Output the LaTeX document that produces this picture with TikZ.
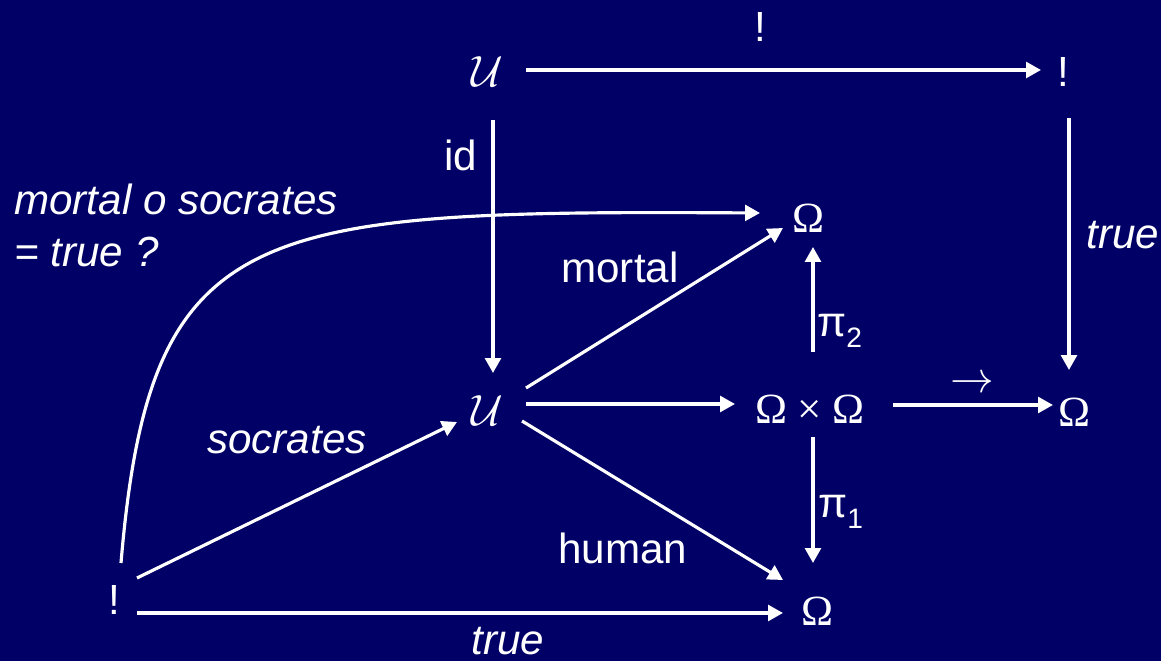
\documentclass[tikz,border=0pt]{standalone}
\usepackage{fontspec}
\setmainfont{Liberation Sans}
\newfontfamily\serifom{Liberation Serif}
\usetikzlibrary{arrows.meta,calc}
\definecolor{bgc}{RGB}{0,0,102}
\begin{document}
\begin{tikzpicture}[x=0.02cm,y=-0.02cm,
  every node/.style={text=white,inner sep=0pt,font=\fontsize{24}{29}\selectfont},
  obj/.style={font=\fontsize{24.5}{29}\selectfont\serifom},
  cal/.style={font=\fontsize{27}{30}\selectfont},
  lab/.style={font=\fontsize{24}{29}\selectfont},
  ilab/.style={font=\fontsize{24}{29}\selectfont\itshape},
  conn/.style={draw=white,line width=1.8pt},
  arr/.style={conn,-{Triangle[length=8.5pt,width=9pt]}}]
\useasboundingbox (0,0) rectangle (1161,661);
\fill[bgc] (0,0) rectangle (1161,661);
% objects
\node[cal] (Utop) at (487,72) {$\mathcal{U}$};
\node[lab] (Btop) at (1063,72) {!};
\node[cal] (Umid) at (487,411) {$\mathcal{U}$};
\node[obj] (Otop) at (808,218) {Ω};
\node[obj] (OxO) at (810,409) {Ω × Ω};
\node[obj] (Oright) at (1074,412) {Ω};
\node[obj] (Obot) at (817,611) {Ω};
\node[lab] (Bbot) at (114,600) {!};
% connectors
\draw[arr] ($(Utop)+(39,-2)$) -- ($(Btop)+(-22,-2)$);
\draw[arr] ($(Utop)+(6,48)$) -- ($(Umid)+(6,-38)$);
\draw[arr] ($(Btop)+(6,46)$) -- ($(Oright)+(-5,-42)$);
\draw[arr] ($(Umid)+(39,-7)$) -- ($(OxO)+(-75,-5)$);
\draw[arr] ($(OxO)+(83,-4)$) -- ($(Oright)+(-21,-7)$);
\draw[arr] ($(OxO)+(3,-57)$) -- ($(Otop)+(5,29)$);
\draw[arr] ($(OxO)+(3,28)$) -- ($(Obot)+(-4,-48)$);
\draw[arr] ($(Umid)+(39,-23)$) -- ($(Otop)+(-25,10)$);
\draw[arr] ($(Umid)+(35,10)$) -- ($(Obot)+(-34,-31)$);
\draw[arr] ($(Bbot)+(23,-22)$) -- ($(Umid)+(-30,11)$);
\draw[arr] ($(Bbot)+(23,13)$) -- ($(Obot)+(-34,2)$);
\draw[arr] ($(Bbot)+(7,-37)$) .. controls (150,220) and (250,210) .. ($(Otop)+(-48,-5)$);
% labels
\node[lab] (lBang) at (760,27) {!};
\node[lab] (lId) at (461,155) {id};
\node[ilab] (lTrueR) at (1123,235) {true};
\node[lab] (lMortal) at (620,267) {mortal};
\node[ilab] (lSocr) at (287,440) {socrates};
\node[lab] (lHuman) at (623,548) {human};
\node[ilab] (lTrueB) at (508,641) {true};
\node[lab,anchor=base west] (lPi2) at (817,337) {π\raisebox{-6pt}{\fontsize{16}{16}\selectfont 2}};
\node[lab,anchor=base west] (lPi1) at (818,518) {π\raisebox{-6pt}{\fontsize{16}{16}\selectfont 1}};
\node[lab] (lImp) at (972,384) {$\rightarrow$};
\node[ilab,anchor=base west] (lQ1) at (14,215) {mortal o socrates};
\node[ilab,anchor=base west] (lQ2) at (14,267) {= true ?};
\end{tikzpicture}
\end{document}
